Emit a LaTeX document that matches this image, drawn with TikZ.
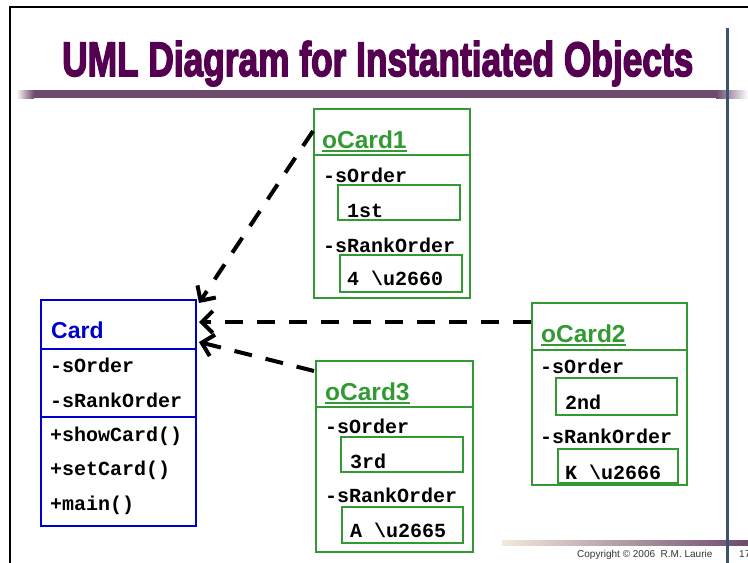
\documentclass[tikz,border=0pt]{standalone}
\usepackage{fontspec}
\usepackage{graphicx}
\usetikzlibrary{arrows.meta,fit}
\setmainfont{Liberation Sans}
\setmonofont{Liberation Mono}
\newfontfamily\titlefont{Liberation Sans}[BoldFeatures={FakeBold=3.5}]
\definecolor{titlepurple}{RGB}{85,0,80}
\definecolor{barpurple}{RGB}{110,74,110}
\definecolor{bartan}{RGB}{226,200,165}
\definecolor{edgeblue}{RGB}{60,84,112}
\definecolor{umlblue}{RGB}{0,0,204}
\definecolor{objgreen}{RGB}{51,153,51}
\begin{document}
\begin{tikzpicture}[x=1pt,y=-1pt,
  classbox/.style={draw=umlblue,line width=2pt,inner sep=0pt},
  objbox/.style={draw=objgreen,line width=2pt,inner sep=0pt},
  valbox/.style={draw=objgreen,line width=2pt,inner sep=0pt},
  member/.style={anchor=base west,inner sep=0pt,font=\ttfamily\bfseries\fontsize{20}{24}\selectfont},
  objname/.style={anchor=base west,inner sep=0pt,text=objgreen,font=\bfseries\fontsize{24.5}{28}\selectfont},
  dep/.style={line width=4pt,dash pattern=on 18pt off 14pt,-{Straight Barb[length=11pt,width=22pt]}}]
\useasboundingbox (0,0) rectangle (748,563);
% slide frame and title
\draw[line width=2.5pt] (10,563) -- (10,7) -- (748,7);
\node[anchor=base west,inner sep=0pt,text=titlepurple] (title) at (62,76)
  {\resizebox{631pt}{35pt}{\titlefont\bfseries UML Diagram for Instantiated Objects}};
\shade[left color=white,right color=barpurple] (16,90) rectangle (34,98);
\fill[barpurple] (34,90) rectangle (716,98);
\shade[left color=barpurple,right color=white] (716,90) rectangle (748,98);
\shade[left color=bartan!40,right color=barpurple] (502,540) rectangle (748,545);
\draw[edgeblue,line width=3pt] (727,28) -- (727,563);
\node[anchor=base west,inner sep=0pt,text=black!80,font=\fontsize{10}{12}\selectfont] (copy) at (577,557) {Copyright \textcopyright{} 2006~ R.M. Laurie};
\node[anchor=base west,inner sep=0pt,text=black!80,font=\fontsize{10}{12}\selectfont] (page) at (739,557) {17};

% class Card
\node[classbox,fit={(41,300) (196,526)}] (card) {};
\draw[umlblue,line width=2pt] (41,349) -- (196,349);
\draw[umlblue,line width=2pt] (41,417) -- (196,417);
\node[anchor=base west,inner sep=0pt,text=umlblue,font=\bfseries\fontsize{23}{28}\selectfont] (card-name) at (51,338) {Card};
\node[member] (card-a1) at (50,372) {-sOrder};
\node[member] (card-a2) at (50,407) {-sRankOrder};
\node[member] (card-m1) at (50,441) {+showCard()};
\node[member] (card-m2) at (50,475) {+setCard()};
\node[member] (card-m3) at (50,510) {+main()};

% object oCard1
\node[objbox,fit={(314,109) (470,298)}] (ocard1) {};
\node[objname] (ocard1-name) at (322,148) {oCard1};
\draw[objgreen,line width=2.5pt] ([yshift=-3pt]ocard1-name.base west) -- ([yshift=-3pt]ocard1-name.base east);
\draw[objgreen,line width=2pt] (314,155) -- (470,155);
\node[member] (ocard1-a1) at (323,182) {-sOrder};
\node[valbox,fit={(338,185) (460,220)}] (ocard1-v1) {};
\node[member] (ocard1-t1) at (347,217) {1st};
\node[member] (ocard1-a2) at (323,252) {-sRankOrder};
\node[valbox,fit={(340,255) (462,292)}] (ocard1-v2) {};
\node[member] (ocard1-t2) at (347,285) {4 \textbackslash u2660};

% object oCard2
\node[objbox,fit={(532,303) (687,485)}] (ocard2) {};
\node[objname] (ocard2-name) at (541,342) {oCard2};
\draw[objgreen,line width=2.5pt] ([yshift=-3pt]ocard2-name.base west) -- ([yshift=-3pt]ocard2-name.base east);
\draw[objgreen,line width=2pt] (532,350) -- (687,350);
\node[member] (ocard2-a1) at (540,373) {-sOrder};
\node[valbox,fit={(556,378) (677,415)}] (ocard2-v1) {};
\node[member] (ocard2-t1) at (565,409) {2nd};
\node[member] (ocard2-a2) at (540,443) {-sRankOrder};
\node[valbox,fit={(558,449) (678,483)}] (ocard2-v2) {};
\node[member] (ocard2-t2) at (565,479) {K \textbackslash u2666};

% object oCard3
\node[objbox,fit={(316,361) (473,552)}] (ocard3) {};
\node[objname] (ocard3-name) at (325,400) {oCard3};
\draw[objgreen,line width=2.5pt] ([yshift=-3pt]ocard3-name.base west) -- ([yshift=-3pt]ocard3-name.base east);
\draw[objgreen,line width=2pt] (316,407) -- (473,407);
\node[member] (ocard3-a1) at (325,433) {-sOrder};
\node[valbox,fit={(341,437) (463,472)}] (ocard3-v1) {};
\node[member] (ocard3-t1) at (350,468) {3rd};
\node[member] (ocard3-a2) at (325,502) {-sRankOrder};
\node[valbox,fit={(342,507) (463,543)}] (ocard3-v2) {};
\node[member] (ocard3-t2) at (350,537) {A \textbackslash u2665};

% instance-of links
\draw[dep] ([yshift=-23pt]ocard1.north west) -- ([xshift=2pt,yshift=-4pt]card.north east);
\draw[dep] ([yshift=-20pt]ocard2.north west) -- ([xshift=2pt,yshift=-23pt]card.north east);
\draw[dep] ([xshift=-1pt,yshift=-11pt]ocard3.north west) -- ([xshift=2pt,yshift=-43pt]card.north east);
\end{tikzpicture}
\end{document}
